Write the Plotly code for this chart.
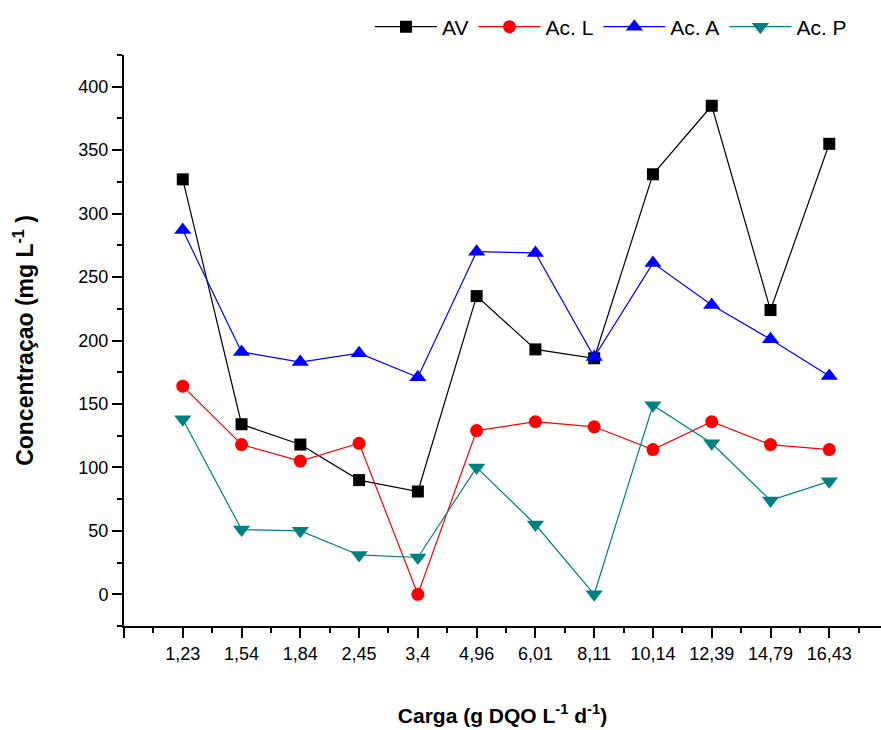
import plotly.graph_objects as go

cargas = ["1,23", "1,54", "1,84", "2,45", "3,4", "4,96", "6,01", "8,11", "10,14", "12,39", "14,79", "16,43"]
av = [327, 134, 118, 90, 81, 235, 193, 186, 331, 385, 224, 355]
ac_l = [164, 118, 105, 119, 0, 129, 136, 132, 114, 136, 118, 114]
ac_a = [287, 191, 183, 190, 171, 270, 269, 187, 261, 228, 201, 172]
ac_p = [138, 51, 50, 31, 29, 100, 55, 0, 149, 119, 74, 89]

series = [
    ("AV", av, "#000000", "square", 12),
    ("Ac. L", ac_l, "#FF0000", "circle", 13),
    ("Ac. A", ac_a, "#0000FF", "triangle-up", 15),
    ("Ac. P", ac_p, "#008080", "triangle-down", 15),
]

xs = list(range(len(cargas)))
fig = go.Figure()
for name, vals, color, sym, sz in series:
    fig.add_trace(go.Scatter(
        x=xs, y=vals, name=name, mode="lines+markers",
        line=dict(color=color, width=1.2),
        marker=dict(symbol=sym, size=sz, color=color, line=dict(width=0)),
    ))

font = "Liberation Sans, Arial, sans-serif"
fig.update_layout(
    width=881, height=730,
    margin=dict(l=124, r=0, t=55, b=104),
    paper_bgcolor="white", plot_bgcolor="white",
    font=dict(family=font, size=18, color="black"),
    showlegend=True,
    legend=dict(orientation="h", x=0.325, xanchor="left", y=1.049, yanchor="middle",
                font=dict(size=21), itemwidth=62, tracegroupgap=0,
                bgcolor="rgba(0,0,0,0)"),
    xaxis=dict(
        range=[-1, 11.88], tickmode="array", tickvals=[-1] + xs, ticktext=[""] + cargas,
        showline=True, linecolor="black", linewidth=2, ticks="outside", ticklen=10,
        tickwidth=2, tickcolor="black", showgrid=False, zeroline=False,
        minor=dict(tickmode="array", tickvals=[i + 0.5 for i in range(-1, 12)],
                   ticks="outside", ticklen=5, tickwidth=2, tickcolor="black", showgrid=False),
        title=dict(text="<b>Carga (g DQO L<sup>-1</sup> d<sup>-1</sup>)</b>", font=dict(size=21), standoff=46),
    ),
    yaxis=dict(
        range=[-25, 425], tickmode="array", tickvals=list(range(0, 401, 50)),
        showline=True, linecolor="black", linewidth=2, ticks="outside", ticklen=10,
        tickwidth=2, tickcolor="black", showgrid=False, zeroline=False,
        minor=dict(tickmode="array", tickvals=list(range(-25, 426, 50)),
                   ticks="outside", ticklen=5, tickwidth=2, tickcolor="black", showgrid=False),
        title=dict(text="<b>Concentraçao (mg L<sup>-1</sup> )</b>", font=dict(size=23), standoff=38),
    ),
)

fig.write_html("out.html")
